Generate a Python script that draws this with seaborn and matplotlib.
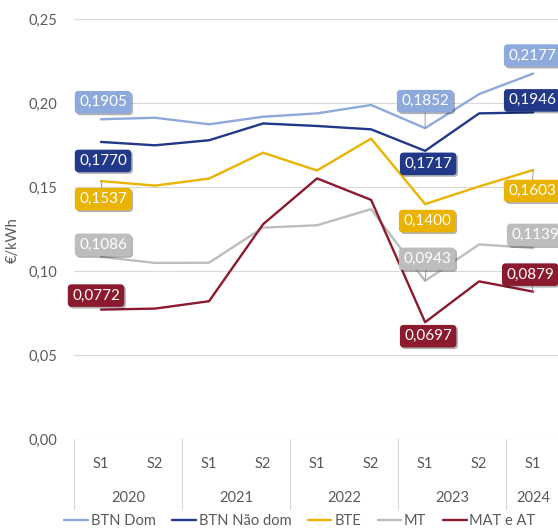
import pandas as pd
import seaborn as sns
import matplotlib.pyplot as plt
import matplotlib.patheffects as pe
from matplotlib.ticker import FuncFormatter

# semesters on the x axis
periods = ['S1', 'S2', 'S1', 'S2', 'S1', 'S2', 'S1', 'S2', 'S1']
years = ['2020', '2020', '2021', '2021', '2022', '2022', '2023', '2023', '2024']

# prices in EUR/kWh per tariff level
btn_dom = [0.1905, 0.1914, 0.1875, 0.1920, 0.1940, 0.1990, 0.1852, 0.2055, 0.2177]
btn_nao_dom = [0.1770, 0.1750, 0.1780, 0.1880, 0.1865, 0.1845, 0.1717, 0.1940, 0.1946]
bte = [0.1537, 0.1510, 0.1552, 0.1706, 0.1600, 0.1790, 0.1400, 0.1505, 0.1603]
mt = [0.1086, 0.1050, 0.1051, 0.1260, 0.1274, 0.1370, 0.0943, 0.1160, 0.1139]
mat_at = [0.0772, 0.0778, 0.0822, 0.1280, 0.1553, 0.1425, 0.0697, 0.0940, 0.0879]

series_names = ['BTN Dom', 'BTN Não dom', 'BTE', 'MT', 'MAT e AT']
colors = ['#8EA9DB', '#22398A', '#E9B300', '#BDBDBD', '#8C1A2E']

# which points get a value box: (series, point index, dx px, dy px, leader line)
labels = [
    ('BTN Dom', 0, 2, 17, False), ('BTN Dom', 6, 0, 27, True), ('BTN Dom', 8, -1, 18, False),
    ('BTN Não dom', 0, 2, -19, False), ('BTN Não dom', 6, 3, -13, False), ('BTN Não dom', 8, -1, 12, False),
    ('BTE', 0, 2, -18, True), ('BTE', 6, 2, -17, False), ('BTE', 8, -1, -21, True),
    ('MT', 0, 2, 12, True), ('MT', 6, 2, 22, True), ('MT', 8, 2, 13, False),
    ('MAT e AT', 0, -5, 14, False), ('MAT e AT', 6, 3, -14, False), ('MAT e AT', 8, -3, 17, True),
]

values = dict(zip(series_names, [btn_dom, btn_nao_dom, bte, mt, mat_at]))
df = pd.DataFrame([
    {'idx': i, 'serie': name, 'valor': v}
    for name in series_names for i, v in enumerate(values[name])
])

sns.set_style('white')
plt.rcParams['font.family'] = ['Lato', 'DejaVu Sans']

fig = plt.figure(figsize=(5.58, 5.30), dpi=100)
ax = fig.add_axes([74 / 558, 90.7 / 530, 484 / 558, 420 / 530])

sns.lineplot(data=df, x='idx', y='valor', hue='serie', hue_order=series_names,
             palette=colors, linewidth=1.7, ax=ax, legend=True)

ax.set_xlim(-0.5, 8.46)
ax.set_ylim(0, 0.25)
ax.set_yticks([0, 0.05, 0.10, 0.15, 0.20, 0.25])
ax.yaxis.set_major_formatter(FuncFormatter(lambda v, _: f'{v:.2f}'.replace('.', ',')))
ax.tick_params(axis='y', length=0, pad=12, labelsize=10.5, labelcolor='#595959')
ax.set_xticks([])
ax.set_xlabel('')
ax.set_ylabel('€/kWh', fontsize=10.5, color='#595959')
ax.yaxis.set_label_coords(-0.112, 0.475)
ax.grid(axis='y', color='#D9D9D9', linewidth=0.8)
for s in ax.spines.values():
    s.set_visible(False)

# two-level category axis
xt = ax.get_xaxis_transform()
for i, p in enumerate(periods):
    ax.text(i, -0.060, p, transform=xt, ha='center', va='center', fontsize=10.5, color='#595959')
for y in sorted(set(years)):
    pos = [i for i, yy in enumerate(years) if yy == y]
    ax.text(sum(pos) / len(pos), -0.139, y, transform=xt, ha='center', va='center',
            fontsize=10.5, color='#595959')
for b in [-0.5, 1.5, 3.5, 5.5, 7.5]:
    ax.plot([b, b], [0, -0.166], transform=xt, color='#D9D9D9', lw=0.8, clip_on=False)

# value boxes
for name, i, dx, dy, leader in labels:
    col = colors[series_names.index(name)]
    v = values[name][i]
    arrow = dict(arrowstyle='-', color='#8C8C8C', lw=0.6, shrinkA=0, shrinkB=0) if leader else None
    t = ax.annotate(f'{v:.4f}'.replace('.', ','), xy=(i, v), xytext=(dx, dy),
                    textcoords='offset pixels', ha='center', va='center',
                    fontsize=11, color='white', annotation_clip=False, arrowprops=arrow,
                    bbox=dict(boxstyle='round,pad=0.28,rounding_size=0.25', fc=col, ec='none'))
    t.get_bbox_patch().set_path_effects([
        pe.SimplePatchShadow(offset=(1.2, -1.2), shadow_rgbFace='black', alpha=0.3), pe.Normal()])

handles, lbls = ax.get_legend_handles_labels()
ax.get_legend().remove()
fig.legend(handles, lbls, loc='center', bbox_to_anchor=(300 / 558, 9 / 530), ncol=5,
           frameon=False, fontsize=10.5, handlelength=1.6, handletextpad=0.2,
           columnspacing=1.15, labelcolor='#595959', borderpad=0)

fig.savefig('out.png', dpi=100)
